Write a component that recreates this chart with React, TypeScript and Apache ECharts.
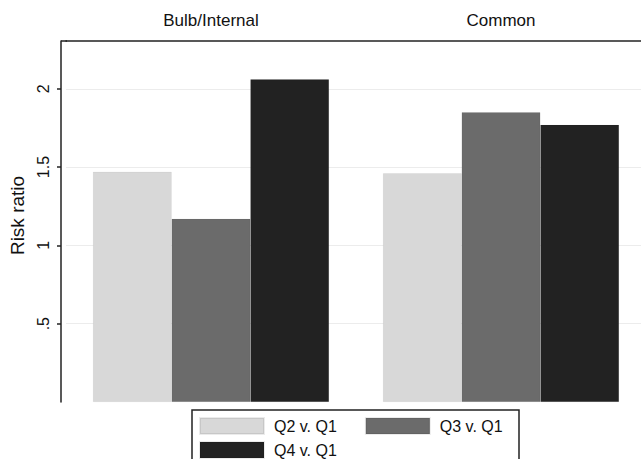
import React, { useEffect, useRef } from "react";
import * as echarts from "echarts";

const groups = ["Bulb/Internal", "Common"];
const seriesNames = ["Q2 v. Q1", "Q3 v. Q1", "Q4 v. Q1"];
const q2 = [1.47, 1.46];
const q3 = [1.17, 1.85];
const q4 = [2.06, 1.77];
const colors = ["#d8d8d8", "#6b6b6b", "#222222"];
const yTicks = [0.5, 1, 1.5, 2];
const yTickLabels = [".5", "1", "1.5", "2"];

export default function App() {
  const ref = useRef<HTMLDivElement>(null);
  useEffect(() => {
    if (!ref.current) return;
    const chart = echarts.init(ref.current, null, { renderer: "svg" });
    const font = "Liberation Sans, Arial, sans-serif";
    const data = [q2, q3, q4];
    const legendText = { color: "#111", fontSize: 16, lineHeight: 16, fontFamily: font, padding: [0, 0, 0, 5] };
    chart.setOption({
      animation: false,
      backgroundColor: "#ffffff",
      textStyle: { fontFamily: font },
      grid: { left: 66, right: -5, top: 41, bottom: 57, outerBoundsMode: "none", containLabel: false },
      xAxis: {
        type: "category",
        data: groups,
        position: "top",
        axisLine: { show: true, onZero: false, lineStyle: { color: "#222", width: 1.5 } },
        axisTick: { show: false },
        axisLabel: { color: "#111", fontSize: 17, margin: 12, fontFamily: font },
      },
      yAxis: {
        type: "value",
        min: 0,
        max: 2.305,
        interval: 0.5,
        offset: 5,
        name: "Risk ratio",
        nameLocation: "middle",
        nameGap: 32,
        nameTextStyle: { color: "#111", fontSize: 19, fontFamily: font, padding: [0, 0, 0, 12] },
        axisLine: { show: true, lineStyle: { color: "#222", width: 1.5 } },
        axisTick: { show: true, length: 4, customValues: yTicks, lineStyle: { color: "#222", width: 1.5 } },
        axisLabel: {
          customValues: yTicks,
          rotate: 90,
          margin: 10,
          fontSize: 16,
          color: "#111",
          fontFamily: font,
          formatter: (v: number) => {
            const i = yTicks.indexOf(v);
            return i >= 0 ? yTickLabels[i] : "";
          },
        },
        splitLine: { show: true, lineStyle: { color: "#ececec", width: 1 } },
      },
      legend: [
        {
          left: 199,
          top: 417,
          padding: 0,
          itemWidth: 64,
          itemHeight: 16,
          itemGap: 28,
          icon: "rect",
          data: [seriesNames[0], seriesNames[1]],
          textStyle: legendText,
        },
        {
          left: 199,
          top: 441,
          padding: 0,
          itemWidth: 64,
          itemHeight: 16,
          icon: "rect",
          data: [seriesNames[2]],
          textStyle: legendText,
        },
      ],
      graphic: [
        {
          type: "rect",
          shape: { x: 192, y: 410, width: 327, height: 70 },
          style: { fill: "none", stroke: "#222", lineWidth: 1.5 },
          silent: true,
        },
        {
          type: "line",
          shape: { x1: 61, y1: 41, x2: 67, y2: 41 },
          style: { stroke: "#222", lineWidth: 1.5 },
          silent: true,
        },
      ],
      series: seriesNames.map((name, i) => ({
        name,
        type: "bar",
        data: data[i],
        barGap: "0%",
        barCategoryGap: "18.6%",
        itemStyle: { color: colors[i], borderColor: "rgba(0,0,0,0.08)", borderWidth: 0.5 },
      })),
    });
    return () => chart.dispose();
  }, []);
  return <div ref={ref} style={{ width: 641, height: 459, position: "absolute", left: 0, top: 0 }} />;
}
